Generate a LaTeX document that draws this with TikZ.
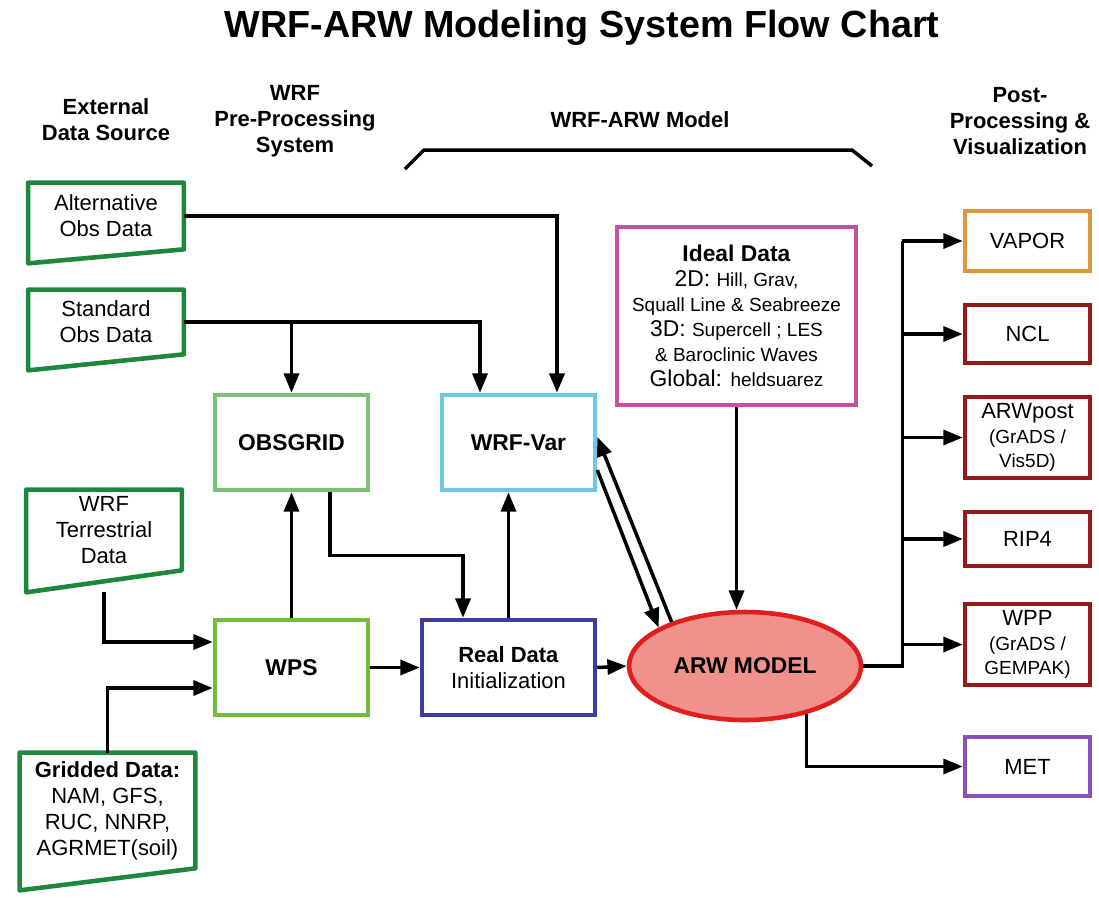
\documentclass[tikz,border=0pt]{standalone}
\usepackage{fontspec}
\setmainfont{Liberation Sans}
\usetikzlibrary{arrows.meta,shapes.geometric}
\definecolor{datagreen}{RGB}{30,135,60}
\definecolor{obsgreen}{RGB}{125,192,120}
\definecolor{varblue}{RGB}{110,200,225}
\definecolor{wpsgreen}{RGB}{115,190,55}
\definecolor{realblue}{RGB}{60,60,160}
\definecolor{idealpink}{RGB}{200,80,160}
\definecolor{arwred}{RGB}{225,30,30}
\definecolor{arwfill}{RGB}{240,145,140}
\definecolor{vaporor}{RGB}{220,150,60}
\definecolor{postred}{RGB}{150,25,25}
\definecolor{metpurple}{RGB}{140,80,190}
\newcommand\smtxt[1]{{\fontsize{10.8}{14}\selectfont #1}}
\tikzset{
	arr/.style={-{Triangle[length=11pt,width=8.5pt]}, line width=2pt},
	txt/.style={align=center, font=\fontsize{12.5}{14.8}\selectfont},
	head/.style={align=center, font=\bfseries\fontsize{12.5}{14.8}\selectfont},
	databox/.style={txt, inner sep=0pt, minimum width=3.1cm},
	procbox/.style={txt, draw, line width=2.6pt, inner sep=0pt, minimum width=3.06cm, minimum height=1.9cm},
	postbox/.style={draw, line width=2.6pt, inner sep=0pt, minimum width=2.5cm, align=center, font=\fontsize{12.5}{13.8}\selectfont},
}
\begin{document}
\begin{tikzpicture}[x=0.02cm, y=-0.02cm]
	\useasboundingbox (0,0) rectangle (1099,897);
	\node[font=\bfseries\fontsize{21.5}{26}\selectfont] (title) at (582, 28) {WRF-ARW Modeling System Flow Chart};
	\node[head] (hext) at (106, 120) {External\\Data Source};
	\node[head] (hpre) at (295, 121) {WRF\\Pre-Processing\\System};
	\node[head] (hmod) at (640, 120) {WRF-ARW Model};
	\node[head] (hpost) at (1020, 121) {Post-\\Processing \&\\Visualization};
	\draw[line width=2pt] (405, 169) -- (424, 150) -- (852, 150) -- (872, 166);

	\node[databox, minimum height=1.32cm] (alt) at (106, 216) {Alternative\\Obs Data};
	\node[databox, minimum height=1.28cm] (std) at (106, 322) {Standard\\Obs Data};
	\node[databox, minimum height=1.6cm] (terr) at (104, 530) {WRF\\Terrestrial\\Data};
	\node[databox, minimum width=3.5cm, minimum height=2.3cm] (grid) at (107.5, 810.5) {\textbf{Gridded Data:}\\NAM, GFS,\\RUC, NNRP,\\AGRMET(soil)};
	\foreach \n/\s in {alt/0.28, std/0.32, terr/0.44, grid/0.44}
		\draw[datagreen, line width=2.6pt, line join=round] (\n.north west) -- (\n.north east) -- (\n.south east) -- ([yshift=-\s cm]\n.south west) -- cycle;

	\node[procbox, obsgreen, text=black, font=\bfseries\fontsize{13}{15}\selectfont] (obsgrid) at (291.5, 442.5) {OBSGRID};
	\node[procbox, varblue, text=black, font=\bfseries\fontsize{13}{15}\selectfont] (wrfvar) at (518.5, 442.5) {WRF-Var};
	\node[procbox, wpsgreen, text=black, font=\bfseries\fontsize{13}{15}\selectfont] (wps) at (291.5, 667.5) {WPS};
	\node[procbox, realblue, text=black, minimum width=3.46cm] (real) at (508.5, 667.5) {\textbf{Real Data}\\Initialization};
	\node[procbox, idealpink, text=black, minimum width=4.78cm, minimum height=3.56cm, font=\fontsize{13}{14.3}\selectfont] (ideal) at (736.5, 316) {\textbf{Ideal Data}\\2D: \smtxt{Hill, Grav,}\\\smtxt{Squall Line \& Seabreeze}\\3D: \smtxt{Supercell ; LES}\\\smtxt{\& Baroclinic Waves}\\Global: \smtxt{heldsuarez}};
	\node[ellipse, draw=arwred, fill=arwfill, line width=2.6pt, inner sep=0pt, minimum width=4.64cm, minimum height=2.16cm, font=\bfseries\fontsize{13}{15}\selectfont] (arw) at (745, 666) {ARW MODEL};

	\node[postbox, vaporor, text=black, minimum height=1.2cm] (vapor) at (1027.5, 241) {VAPOR};
	\node[postbox, postred, text=black, minimum height=1.16cm] (ncl) at (1027.5, 334) {NCL};
	\node[postbox, postred, text=black, minimum height=1.62cm] (arwpost) at (1027.5, 437.5) {ARWpost\\\smtxt{(GrADS /}\\\smtxt{Vis5D)}};
	\node[postbox, postred, text=black, minimum height=1.08cm] (rip4) at (1027.5, 539) {RIP4};
	\node[postbox, postred, text=black, minimum height=1.62cm] (wpp) at (1027.5, 644.5) {WPP\\\smtxt{(GrADS /}\\\smtxt{GEMPAK)}};
	\node[postbox, metpurple, text=black, minimum height=1.18cm] (met) at (1027.5, 766.5) {MET};

	\draw[arr] (alt.east) -| ([xshift=0.77cm]wrfvar.north);
	\draw[arr] (std.east) -| ([xshift=-0.77cm]wrfvar.north);
	\draw[arr] (std.east -| obsgrid.north) -- (obsgrid.north);
	\draw[arr] (wps.north) -- (obsgrid.south);
	\draw[arr] ([xshift=0.77cm]obsgrid.south) -- ++(0, 63) -| ([xshift=-0.91cm]real.north);
	\draw[arr] (real.north) -- (real.north |- wrfvar.south);
	\draw[arr] ([yshift=-0.44cm]terr.south) |- ([yshift=0.51cm]wps.west);
	\draw[arr] (grid.north) |- ([yshift=-0.41cm]wps.west);
	\draw[arr] (wps.east) -- (real.west);
	\draw[arr] (real.east) -- (arw.west);
	\draw[arr] (ideal.south) -- (ideal.south |- arw.north);
	\draw[arr] (arw.149) -- ([yshift=0.11cm]wrfvar.east);
	\draw[arr] ([yshift=-0.55cm]wrfvar.east) -- (arw.156);

	\coordinate (split) at ([xshift=0.78cm]arw.east);
	\draw[line width=2pt] (arw.east) -- (split) -- (split |- vapor.west);
	\foreach \b in {vapor, ncl, arwpost, rip4, wpp}
		\draw[arr] (split |- \b.west) -- (\b.west);
	\draw[arr] (arw.-38) |- (met.west);
\end{tikzpicture}
\end{document}
